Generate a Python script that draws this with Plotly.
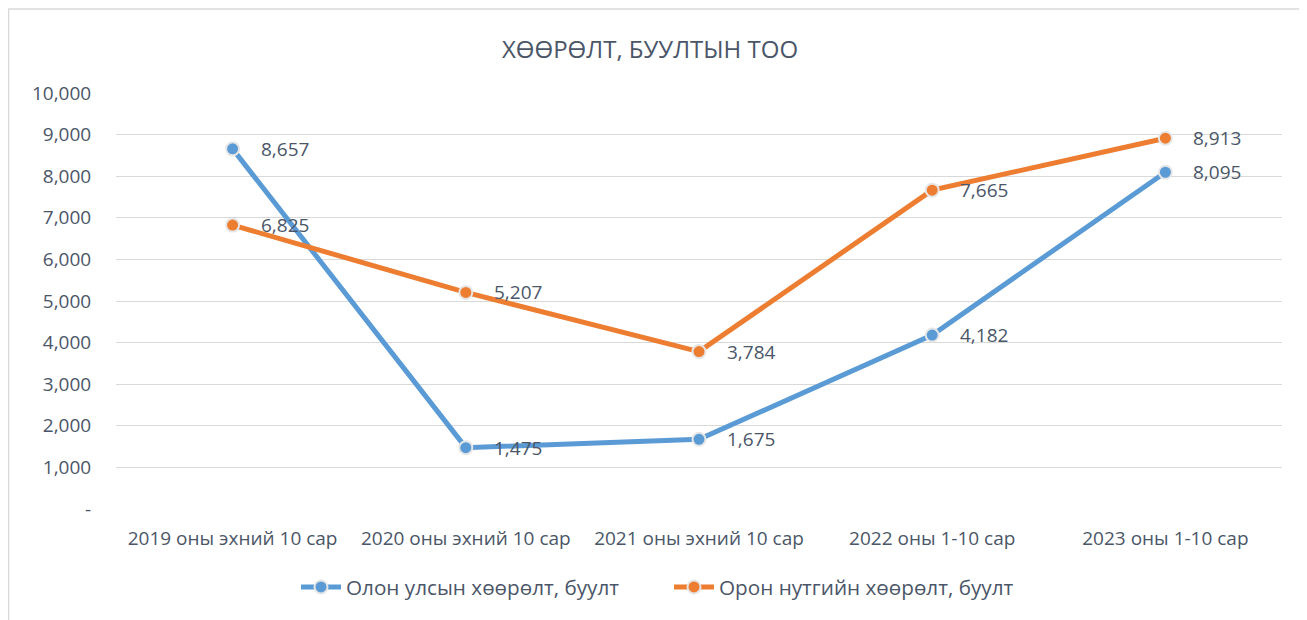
import plotly.graph_objects as go

categories = ["2019 оны эхний 10 сар", "2020 оны эхний 10 сар", "2021 оны эхний 10 сар",
              "2022 оны 1-10 сар", "2023 оны 1-10 сар"]
intl_values = [8657, 1475, 1675, 4182, 8095]
local_values = [6825, 5207, 3784, 7665, 8913]
series_names = ["Олон улсын хөөрөлт, буулт", "Орон нутгийн хөөрөлт, буулт"]
tick_vals = [0, 1000, 2000, 3000, 4000, 5000, 6000, 7000, 8000, 9000, 10000]
tick_text = ["-", "1,000", "2,000", "3,000", "4,000", "5,000", "6,000", "7,000", "8,000", "9,000", "10,000"]
title_text = "ХӨӨРӨЛТ, БУУЛТЫН ТОО"

FONT = "Open Sans"
TXT = "#4b5668"
colors = ["#5B9BD5", "#ED7D31"]

fig = go.Figure()
for name, vals, col in [(series_names[0], intl_values, colors[0]),
                        (series_names[1], local_values, colors[1])]:
    fig.add_trace(go.Scatter(
        x=categories, y=vals, name=name, mode="lines+markers",
        line=dict(color=col, width=5),
        marker=dict(color=col, size=13, line=dict(color="#e6e6e6", width=2)),
        hoverinfo="skip",
    ))

annotations = []
for vals in (intl_values, local_values):
    for c, v in zip(categories, vals):
        annotations.append(dict(
            x=c, y=v, xref="x", yref="y", text=f"{v:,}", showarrow=False,
            xanchor="left", yanchor="middle", xshift=26,
            font=dict(family=FONT, size=19, color=TXT),
        ))

# page is drawn with an 8px body margin, so figure coords = page coords - 8
OFF = 8
W, H = 1307 - OFF, 620 - OFF
L, R, T, B = 108, 25, 85, 111
pw, ph = W - L - R, H - T - B

def px_x(p):
    return (p - OFF - L) / pw

def px_y(p):
    return (H - B - (p - OFF)) / ph

fig.update_layout(
    width=W, height=H,
    margin=dict(l=L, r=R, t=T, b=B),
    paper_bgcolor="white", plot_bgcolor="white",
    title=dict(text=title_text, x=(650 - OFF) / W, xref="container", xanchor="center",
               y=1 - (50 - OFF) / H, yanchor="middle",
               font=dict(family=FONT, size=24, color=TXT)),
    xaxis=dict(showgrid=False, showline=False, zeroline=False,
               tickfont=dict(family=FONT, size=19, color=TXT),
               ticks="outside", ticklen=12, tickcolor="rgba(0,0,0,0)",
               range=[-0.5, 4.5], fixedrange=True),
    yaxis=dict(range=[0, 10000], tickvals=tick_vals, ticktext=tick_text,
               showgrid=True, gridcolor="#d9d9d9", gridwidth=1,
               zeroline=False, showline=False,
               tickfont=dict(family=FONT, size=19, color=TXT),
               ticks="outside", ticklen=20, tickcolor="rgba(0,0,0,0)"),
    legend=dict(orientation="h", x=0.5 - 30 / pw, xanchor="center", y=px_y(587), yanchor="middle",
                font=dict(family=FONT, size=20.7, color=TXT), itemwidth=40,
                entrywidthmode="pixels", entrywidth=318),
    showlegend=True,
    annotations=annotations,
    shapes=[dict(type="rect", xref="paper", yref="paper",
                 x0=px_x(8.5), y0=px_y(660), x1=px_x(1340), y1=px_y(9),
                 line=dict(color="#d9d9d9", width=1.5), layer="below")],
)

fig.write_html("out.html")
